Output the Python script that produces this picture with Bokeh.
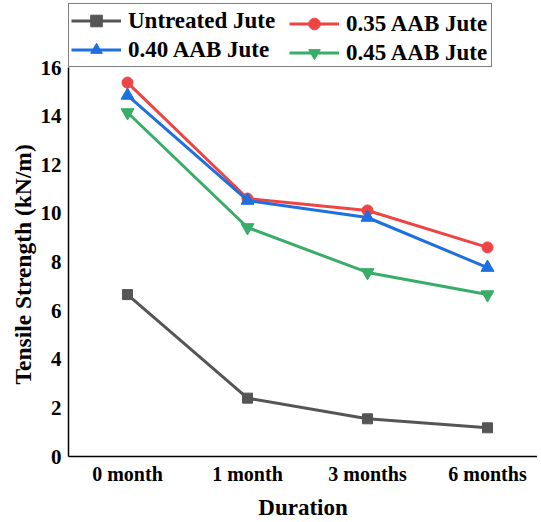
from bokeh.plotting import figure
from bokeh.models import FixedTicker, Legend, LegendItem, Title
from bokeh.embed import file_html
from bokeh.resources import INLINE

durations = ["0 month", "1 month", "3 months", "6 months"]
untreated = [6.66, 2.40, 1.55, 1.18]
aab_035 = [15.38, 10.61, 10.12, 8.60]
aab_040 = [14.85, 10.53, 9.83, 7.77]
aab_045 = [14.15, 9.42, 7.57, 6.66]
y_ticks = [0, 2, 4, 6, 8, 10, 12, 14, 16]

xs = list(range(len(durations)))
FONT = "Liberation Serif"

W, H = 537, 522
BL, BR, BT, BB = 68, 0, 0, 66
frame_w = W - BL - BR
frame_h = H - BT - BB
top16 = 67  # pixel offset of the value 16 below the frame top
y_end = 16.0 * frame_h / (frame_h - top16)
x_start = -59 / 120.0
x_end = x_start + frame_w / 120.0

p = figure(width=W, height=H, output_backend="svg", toolbar_location=None,
           x_range=(x_start, x_end), y_range=(0, y_end),
           min_border_left=BL, min_border_right=BR, min_border_top=BT, min_border_bottom=BB)
p.outline_line_color = None
p.grid.visible = False

series = [
    ("Untreated Jute", untreated, "#555555", "square", 10),
    ("0.35 AAB Jute", aab_035, "#ef4444", "circle", 11),
    ("0.40 AAB Jute", aab_040, "#1e6fdf", "triangle", 13),
    ("0.45 AAB Jute", aab_045, "#38ad68", "inverted_triangle", 13),
]
items = {}
for name, ys, col, mk, sz in series:
    l = p.line(xs, ys, line_color=col, line_width=3)
    s = p.scatter(xs, ys, marker=mk, size=sz, fill_color=col, line_color=col)
    items[name] = LegendItem(label=name, renderers=[l, s])


def style(lg):
    lg.label_text_font = FONT
    lg.label_text_font_style = "bold"
    lg.label_text_font_size = "23px"
    lg.label_text_color = "black"
    lg.glyph_width = 50
    lg.glyph_height = 29
    lg.label_height = 29
    lg.label_standoff = 7
    lg.padding = 2
    lg.spacing = 0
    lg.margin = 0


leg_vy = frame_h - top16
leg_a = Legend(items=[items["Untreated Jute"], items["0.40 AAB Jute"]],
               location=(0, leg_vy))
style(leg_a)
leg_a.label_width = 361
leg_a.border_line_color = "black"
leg_a.border_line_width = 1
leg_a.background_fill_color = "white"
leg_a.background_fill_alpha = 1
p.add_layout(leg_a, "center")

leg_b = Legend(items=[items["0.35 AAB Jute"], items["0.45 AAB Jute"]],
               location=(221, leg_vy))
style(leg_b)
leg_b.border_line_color = None
leg_b.background_fill_alpha = 0
p.add_layout(leg_b, "center")

p.xaxis.ticker = FixedTicker(ticks=xs)
p.xaxis.major_label_overrides = {i: d for i, d in enumerate(durations)}
p.yaxis.ticker = FixedTicker(ticks=y_ticks)
p.yaxis.bounds = (0, 16)
for ax in (p.xaxis[0], p.yaxis[0]):
    ax.axis_line_color = "black"
    ax.axis_line_width = 1.5
    ax.major_tick_line_color = None
    ax.major_tick_out = 0
    ax.major_tick_in = 0
    ax.minor_tick_line_color = None
    ax.minor_tick_out = 0
    ax.major_label_text_font = FONT
    ax.major_label_text_font_style = "bold"
    ax.major_label_text_color = "black"
    ax.axis_label_text_font = FONT
    ax.axis_label_text_font_style = "bold"
    ax.axis_label_text_color = "black"
p.xaxis.major_label_text_font_size = "20px"
p.yaxis.major_label_text_font_size = "21px"
p.xaxis.axis_label_text_font_size = "23px"
p.xaxis.axis_label = "Duration"
p.xaxis.major_label_standoff = 6
p.xaxis.axis_label_standoff = 7
p.yaxis.major_label_standoff = 7

# y-axis title starting 72px above the frame bottom, so it is centred on the 0-16 span
y_title = Title(text="Tensile Strength (kN/m)", align="left", offset=72, standoff=3,
                text_font=FONT, text_font_style="bold", text_font_size="23.5px",
                text_color="black")
p.add_layout(y_title, "left")

open("out.html", "w").write(file_html(p, INLINE))
